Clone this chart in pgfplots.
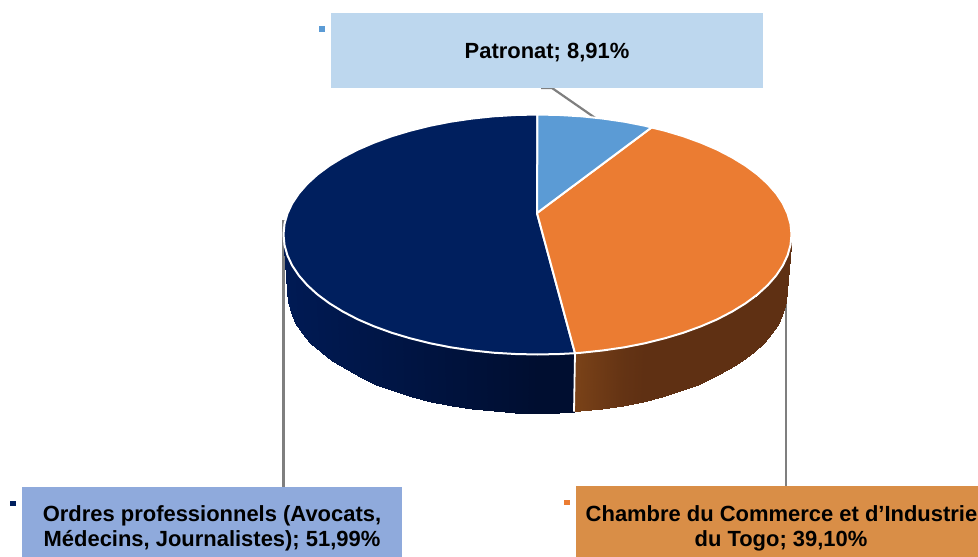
\documentclass[border=0pt]{standalone}
\usepackage{pgfplots}
\pgfplotsset{compat=1.18}
\usepackage{fontspec}
\setmainfont{Liberation Sans}
\definecolor{navy}{HTML}{001F5E}
\definecolor{orng}{HTML}{EB7C32}
\definecolor{ltblue}{HTML}{5B9BD5}
\definecolor{leader}{HTML}{7F7F7F}
\definecolor{bxa}{HTML}{BDD7EE}
\definecolor{bxb}{HTML}{8FAADC}
\definecolor{bxc}{HTML}{D98E47}
\newcommand{\lab}{\fontsize{21.95}{26}\selectfont\bfseries}
\begin{document}
\begin{tikzpicture}
\begin{axis}[
  scale only axis, width=978pt, height=557pt,
  xmin=0, xmax=978, ymin=0, ymax=557, y dir=reverse,
  axis lines=none, clip=true,
  point meta min=0, point meta max=3,
  colormap={wall}{rgb255(0cm)=(0,26,84); rgb255(1cm)=(0,14,48); rgb255(2cm)=(122,66,24); rgb255(3cm)=(95,48,19)},
]
  % keeps the page as large as the whole canvas
  \addplot[draw=none] coordinates {(0,0) (978,557)};

  % leader lines, behind the pie
  \addplot[leader, line width=2.3pt] coordinates {(283.5,220) (283.5,487)};
  \addplot[leader, line width=2.3pt] coordinates {(785.7,293) (785.7,487)};
  \addplot[leader, line width=2.2pt] coordinates {(541,88) (552,88) (596,118.5)};

  % side wall, navy slice
  \addplot[surf, shader=interp, mesh/rows=2, point meta=explicit] table[meta=c] {
x y c
283.5 234.5 0
284.5 245 0
287.4 255.3 .01
292.2 265.6 .03
298.8 275.5 .06
307.3 285.2 .09
317.5 294.5 .13
329.4 303.3 .18
342.9 311.6 .23
357.9 319.4 .29
374.2 326.4 .35
391.8 332.8 .42
410.5 338.4 .49
430.2 343.3 .57
450.6 347.3 .65
471.8 350.4 .73
493.4 352.7 .82
515.4 354 .9
537.5 354.5 1
559.6 354 1
575 353.2 1
287 291 0
288 301.6 0
290.8 312.2 .01
295.5 322.6 .03
302.1 332.7 .06
310.4 342.6 .09
320.5 352 .13
332.2 361 .18
345.5 369.4 .23
360.2 377.3 .29
376.3 384.5 .35
393.6 390.9 .42
412 396.7 .49
431.3 401.6 .57
451.5 405.6 .65
472.3 408.8 .73
493.6 411.1 .82
515.2 412.5 .9
537 413 1
558.8 412.5 1
574 411.7 1
};

  % side wall, orange slice
  \addplot[surf, shader=interp, mesh/rows=2, point meta=explicit] table[meta=c] {
x y c
575 353.2 2
581.6 352.7 2.1
603.2 350.4 2.47
624.4 347.3 2.82
644.8 343.3 3
664.5 338.4 3
683.2 332.8 3
700.8 326.4 3
717.1 319.4 3
732.1 311.6 3
745.6 303.3 3
757.5 294.5 3
767.7 285.2 3
776.2 275.5 3
782.8 265.6 3
787.6 255.3 3
790.5 245 3
791.5 234.5 3
574 411.7 2
580.4 411.1 2.1
601.7 408.8 2.47
622.5 405.6 2.82
642.7 401.6 3
662 396.7 3
680.4 390.9 3
697.7 384.5 3
713.8 377.3 3
728.5 369.4 3
741.8 361 3
753.5 352 3
763.6 342.6 3
771.9 332.7 3
778.5 322.6 3
783.2 312.2 3
786 301.6 3
787 291 3
};
  \addplot[white, line width=1.8pt] coordinates {(575,353.2) (574,411.7)};

  % top face: navy 51,99 %
  \addplot[fill=navy, draw=white, line width=2pt, line join=round] coordinates {
    (537,213) (575,353.2) (559.6,354) (537.5,354.5) (515.4,354) (493.4,352.7) (471.8,350.4)
    (450.6,347.3) (430.2,343.3) (410.5,338.4) (391.8,332.8) (374.2,326.4) (357.9,319.4)
    (342.9,311.6) (329.4,303.3) (317.5,294.5) (307.3,285.2) (298.8,275.5) (292.2,265.6)
    (287.4,255.3) (284.5,245) (283.5,234.5) (284.5,224) (287.4,213.7) (292.2,203.4)
    (298.8,193.5) (307.3,183.8) (317.5,174.5) (329.4,165.7) (342.9,157.4) (357.9,149.6)
    (374.2,142.6) (391.8,136.2) (410.5,130.6) (430.2,125.7) (450.6,121.7) (471.8,118.6)
    (493.4,116.3) (515.4,115) (537.5,114.5)
  } -- cycle;
  % top face: orange 39,10 %
  \addplot[fill=orng, draw=white, line width=2pt, line join=round] coordinates {
    (537,213) (651.5,127.5) (664.5,130.6) (683.2,136.2) (700.8,142.6) (717.1,149.6)
    (732.1,157.4) (745.6,165.7) (757.5,174.5) (767.7,183.8) (776.2,193.5) (782.8,203.4)
    (787.6,213.7) (790.5,224) (791.5,234.5) (790.5,245) (787.6,255.3) (782.8,265.6)
    (776.2,275.5) (767.7,285.2) (757.5,294.5) (745.6,303.3) (732.1,311.6) (717.1,319.4)
    (700.8,326.4) (683.2,332.8) (664.5,338.4) (644.8,343.3) (624.4,347.3) (603.2,350.4)
    (581.6,352.7) (575,353.2)
  } -- cycle;
  % top face: light blue 8,91 %
  \addplot[fill=ltblue, draw=white, line width=2pt, line join=round] coordinates {
    (537,213) (537.5,114.5) (559.6,115) (581.6,116.3) (603.2,118.6) (624.4,121.7)
    (644.8,125.7) (651.5,127.5)
  } -- cycle;

  % label boxes
  \addplot[fill=bxa, draw=none] coordinates {(331,13.3) (763,13.3) (763,88) (331,88)} -- cycle;
  \addplot[fill=bxb, draw=none] coordinates {(22,487) (402,487) (402,557) (22,557)} -- cycle;
  \addplot[fill=bxc, draw=none] coordinates {(576,486) (978,486) (978,557) (576,557)} -- cycle;
  % legend keys
  \addplot[fill=ltblue, draw=none] coordinates {(319,26) (325,26) (325,32) (319,32)} -- cycle;
  \addplot[fill=navy, draw=none] coordinates {(10,501) (15.7,501) (15.7,506.3) (10,506.3)} -- cycle;
  \addplot[fill=orng, draw=none] coordinates {(564,500) (570,500) (570,505) (564,505)} -- cycle;

  \node[anchor=base, inner sep=0pt] at (axis cs:547,58.3) {\lab Patronat; 8,91\%};
  \node[anchor=base, inner sep=0pt] at (axis cs:212,521.7) {\lab Ordres professionnels (Avocats,};
  \node[anchor=base, inner sep=0pt] at (axis cs:212,546) {\lab Médecins, Journalistes); 51,99\%};
  \node[anchor=base, inner sep=0pt] at (axis cs:781.5,521) {\lab Chambre du Commerce et d’Industrie};
  \node[anchor=base, inner sep=0pt] at (axis cs:781,546) {\lab du Togo; 39,10\%};
\end{axis}
\end{tikzpicture}
\end{document}
